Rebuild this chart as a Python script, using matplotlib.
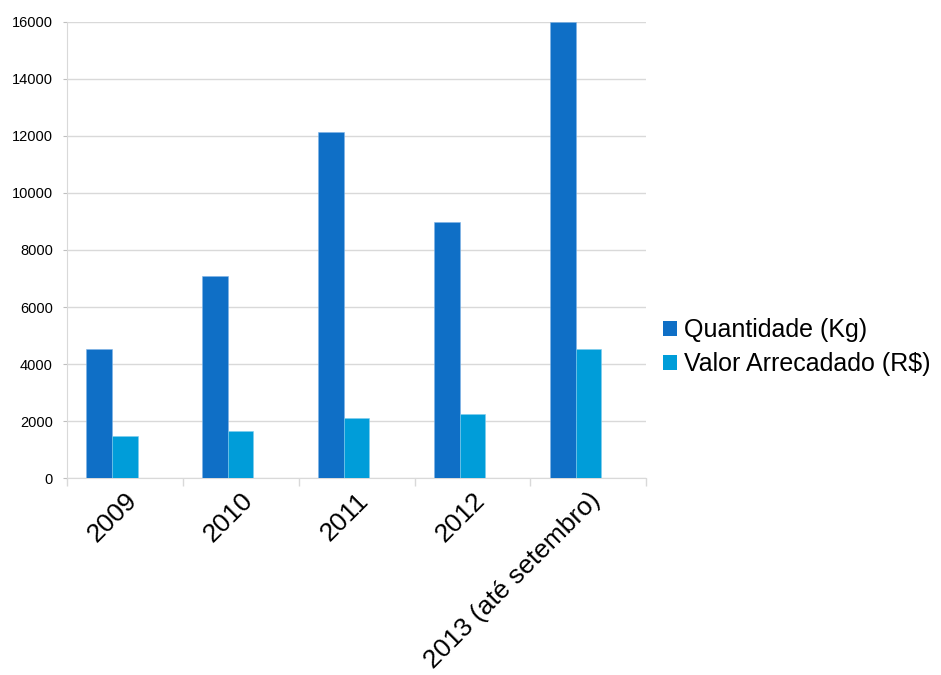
import numpy as np
import matplotlib
matplotlib.use("Agg")
import matplotlib.pyplot as plt
from matplotlib.patches import Patch

plt.rcParams['font.family'] = ['Liberation Sans', 'DejaVu Sans']

# data
categories = ['2009', '2010', '2011', '2012', '2013 (até setembro)']
quantidade = [4530, 7090, 12135, 8970, 16000]
valor = [1470, 1670, 2110, 2240, 4530]
series_names = ['Quantidade (Kg)', 'Valor Arrecadado (R$)']
colors = ['#0f6fc6', '#009dd9']
yticks = [0, 2000, 4000, 6000, 8000, 10000, 12000, 14000, 16000]

fig = plt.figure(figsize=(9.41, 6.75), dpi=100)
ax = fig.add_axes([0.0709, 0.2914, 0.616, 0.6765])

x = np.arange(len(categories))
# the source chart keeps room for three bars per category, only two are drawn
w = 1 / 4.5
ax.bar(x - w, quantidade, width=w, color=colors[0], edgecolor='#7fb4e6', linewidth=0.4, zorder=3)
ax.bar(x, valor, width=w, color=colors[1], edgecolor='#80cdee', linewidth=0.4, zorder=3)

ax.set_xlim(-0.5, len(categories) - 0.5)
ax.set_ylim(0, 16000)
ax.set_yticks(yticks)
ax.set_yticklabels([str(v) for v in yticks], fontsize=10.5)
ax.yaxis.grid(True, color='#d9d9d9', linewidth=1, zorder=0)

ax.set_xticks(x)
# top-anchored slanted labels sit a little to the right of the centre, like the source
ax.set_xticklabels(categories, fontsize=19, rotation=45, ha='right', va='top',
                   rotation_mode='anchor')
ax.set_xticks(np.arange(len(categories) + 1) - 0.5, minor=True)
ax.tick_params(axis='x', which='major', length=0, pad=7)
ax.tick_params(axis='x', which='minor', length=6, color='#d9d9d9', width=1)
ax.tick_params(axis='y', length=3, color='#bfbfbf', pad=7, direction='out')

for s in ['top', 'right']:
    ax.spines[s].set_visible(False)
ax.spines['left'].set_color('#d9d9d9')
ax.spines['bottom'].set_color('#d9d9d9')

handles = [Patch(facecolor=c, edgecolor='none') for c in colors]
fig.legend(handles, series_names, loc='upper left', bbox_to_anchor=(663 / 941, 1 - 318 / 675),
           frameon=False, fontsize=18, handlelength=0.55, handleheight=0.55,
           handletextpad=0.3, labelspacing=0.42, borderpad=0, borderaxespad=0)

fig.savefig('out.png', dpi=100)
